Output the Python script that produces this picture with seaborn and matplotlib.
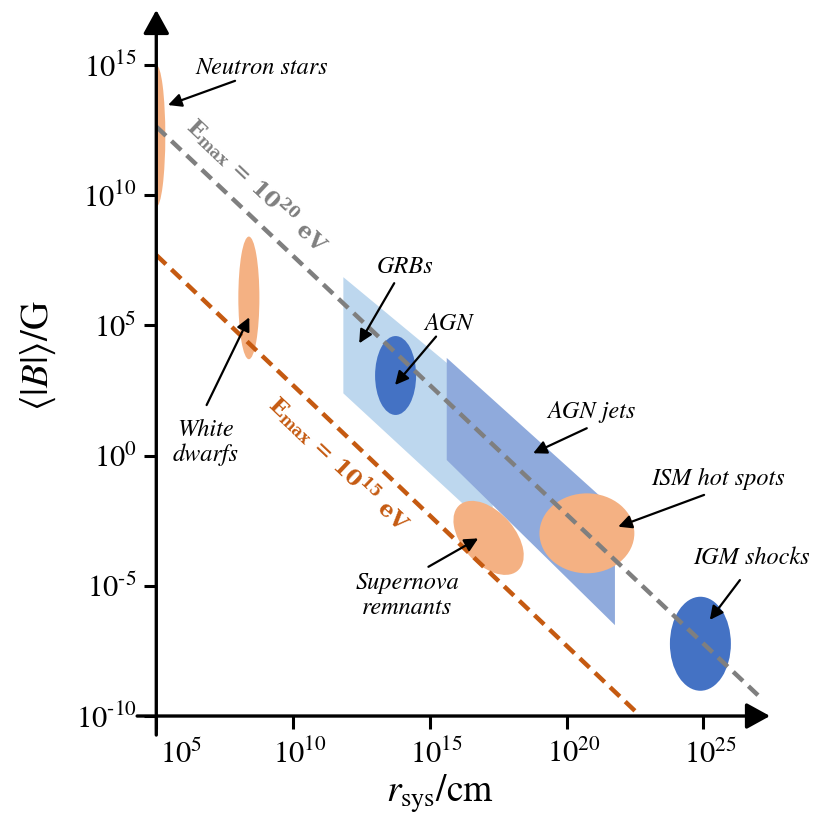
import numpy as np
import matplotlib
matplotlib.use("Agg")
import matplotlib.pyplot as plt
import matplotlib.transforms as mtransforms
import seaborn as sns
from matplotlib.patches import Ellipse, Polygon

# ---- data (log10 r / cm , log10 B / G) ----
ORANGE = "#F4B183"
DARK_BLUE = "#4472C4"
LIGHT_BLUE = "#BDD7EE"
MID_BLUE = "#8FAADC"

# elliptical source classes: ranges in log10 r and log10 B
ell_names = ["Neutron stars", "White dwarfs", "AGN", "ISM hot spots", "IGM shocks"]
ell_r_lo = [4.67, 8.00, 13.00, 19.01, 23.78]
ell_r_hi = [5.33, 8.77, 14.50, 22.48, 26.01]
ell_b_lo = [9.55, 3.70, 1.56, -4.52, -9.03]
ell_b_hi = [15.00, 8.41, 4.59, -1.45, -5.42]
ell_colors = [ORANGE, ORANGE, DARK_BLUE, ORANGE, DARK_BLUE]

# supernova remnants: tilted ellipse
snr_center = (17.15, -3.16)
snr_size = (3.3, 1.95)
snr_angle = -51

# band-like regions (left/right r, B at left edge, slopes of the edges)
band_names = ["GRBs", "AGN jets"]
band_r0 = [11.84, 15.62]
band_r1 = [17.3, 21.77]
band_top0 = [6.85, 3.75]
band_bot0 = [2.39, -0.17]
band_top_slope = [-0.87, -0.947]
band_bot_slope = [-0.97, -1.031]
band_colors = [LIGHT_BLUE, MID_BLUE]

# Hillas lines
line_r = [[5.0, 27.0], [5.0, 22.7]]
line_b = [[12.63, -9.2], [7.7, -10.0]]
line_colors = ["#7F7F7F", "#C55A11"]
line_labels = [r"E$_\mathregular{max}$ = 10$^\mathregular{20}$ eV",
               r"E$_\mathregular{max}$ = 10$^\mathregular{15}$ eV"]
line_label_pos = [(8.70, 10.40), (11.70, -0.28)]

# annotation labels: text position, arrow tail, arrow head
ann_text = ["Neutron stars", "White\ndwarfs", "GRBs", "AGN", "AGN jets",
            "ISM hot spots", "IGM shocks", "Supernova\nremnants"]
ann_xy_text = [(8.86, 14.88), (6.82, 0.52), (14.09, 7.25), (15.68, 5.08),
               (20.92, 1.69), (25.55, -0.87), (26.77, -3.94), (14.17, -5.35)]
ann_tail = [(7.88, 14.39), (6.84, 1.94), (13.70, 6.62), (15.23, 4.57),
            (20.74, 1.05), (25.03, -1.51), (26.34, -4.78), (14.95, -4.27)]
ann_head = [(5.43, 13.46), (8.40, 5.31), (12.42, 4.31), (13.73, 2.71),
            (18.78, 0.09), (21.89, -2.73), (25.24, -6.31), (16.77, -3.18)]

x_ticks = [5, 10, 15, 20, 25]
y_ticks = [-10, -5, 0, 5, 10, 15]

# ---- style ----
sns.set_theme(style="white")
plt.rcParams["font.family"] = ["STIXGeneral", "DejaVu Serif"]
plt.rcParams["mathtext.fontset"] = "stix"
plt.rcParams["text.color"] = "black"
plt.rcParams["axes.labelcolor"] = "black"

fig = plt.figure(figsize=(8.23, 8.32), dpi=100)
ax = fig.add_axes([0.1899, 0.1394, 0.7457, 0.8486])
ax.set_xlim(5, 27.44)
ax.set_ylim(-10, 17.11)
for s in ax.spines.values():
    s.set_visible(False)

# bands
for r0, r1, t0, b0, ts, bs, c in zip(band_r0, band_r1, band_top0, band_bot0,
                                      band_top_slope, band_bot_slope, band_colors):
    verts = [(r0, t0), (r1, t0 + ts * (r1 - r0)), (r1, b0 + bs * (r1 - r0)), (r0, b0)]
    ax.add_patch(Polygon(verts, closed=True, facecolor=c, edgecolor="none", zorder=1))

# ellipses
for rl, rh, bl, bh, c in zip(ell_r_lo, ell_r_hi, ell_b_lo, ell_b_hi, ell_colors):
    ax.add_patch(Ellipse(((rl + rh) / 2, (bl + bh) / 2), rh - rl, bh - bl,
                         facecolor=c, edgecolor="none", zorder=3))
ax.add_patch(Ellipse(snr_center, snr_size[0], snr_size[1], angle=snr_angle,
                     facecolor=ORANGE, edgecolor="none", zorder=3))

# Hillas lines
for r, b, c, lab, pos in zip(line_r, line_b, line_colors, line_labels, line_label_pos):
    sns.lineplot(x=r, y=b, ax=ax, color=c, linewidth=3.2,
                 linestyle=(0, (3, 1.7)), zorder=4)
    p1 = ax.transData.transform((r[0], b[0]))
    p2 = ax.transData.transform((r[1], b[1]))
    ang = np.degrees(np.arctan2(p2[1] - p1[1], p2[0] - p1[0]))
    ax.text(pos[0], pos[1], lab, rotation=ang, rotation_mode="anchor",
            ha="center", va="center", color=c, fontsize=16,
            family="DejaVu Serif", fontweight="bold", zorder=5)

# annotations
for t, xy_t, tail, head in zip(ann_text, ann_xy_text, ann_tail, ann_head):
    ax.text(xy_t[0], xy_t[1], t, ha="center", va="center", fontsize=17.5,
            style="italic", linespacing=1.15, color="black", zorder=7)
    ax.annotate("", xy=head, xytext=tail,
                arrowprops=dict(arrowstyle="-|>", color="black", lw=1.6,
                                mutation_scale=20, shrinkA=0, shrinkB=0),
                zorder=7)

# axis arrows
ax.annotate("", xy=(5, 17.11), xytext=(5, -10.73), annotation_clip=False,
            arrowprops=dict(arrowstyle="-|>,head_length=0.4,head_width=0.22",
                            color="black", lw=2.4, mutation_scale=36,
                            shrinkA=0, shrinkB=0), zorder=6)
ax.annotate("", xy=(27.44, -10), xytext=(4.3, -10), annotation_clip=False,
            arrowprops=dict(arrowstyle="-|>,head_length=0.4,head_width=0.22",
                            color="black", lw=2.4, mutation_scale=36,
                            shrinkA=0, shrinkB=0), zorder=6)


def tick_label(v):
    if v < 0:
        return r"$10^{\text{-}%d}$" % (-v)
    return r"$10^{%d}$" % v


ax.set_xticks(x_ticks)
ax.set_xticklabels([tick_label(v) for v in x_ticks])
ax.set_yticks(y_ticks)
ax.set_yticklabels([tick_label(v) for v in y_ticks])
ax.tick_params(axis="both", which="major", direction="out", length=9,
               width=2.2, color="black", labelsize=22, labelcolor="black",
               bottom=True, left=True)
ax.tick_params(axis="x", pad=8)
ax.tick_params(axis="y", pad=5)

# x tick labels sit a little right of their ticks (first one clear of the axis)
for i, lbl in enumerate(ax.get_xticklabels()):
    dx = 18 if i == 0 else 5
    lbl.set_transform(lbl.get_transform() +
                      mtransforms.ScaledTranslation(dx / 72, 0, fig.dpi_scale_trans))

ax.set_xlabel(r"$r_\mathrm{sys}/\mathrm{cm}$", fontsize=27, color="black")
ax.set_ylabel(r"$\langle|B|\rangle/\mathrm{G}$", fontsize=28, color="black")
ax.xaxis.set_label_coords(0.462, -0.0807)
ax.yaxis.set_label_coords(-0.160, 0.511)

fig.savefig("out.png", dpi=100)
